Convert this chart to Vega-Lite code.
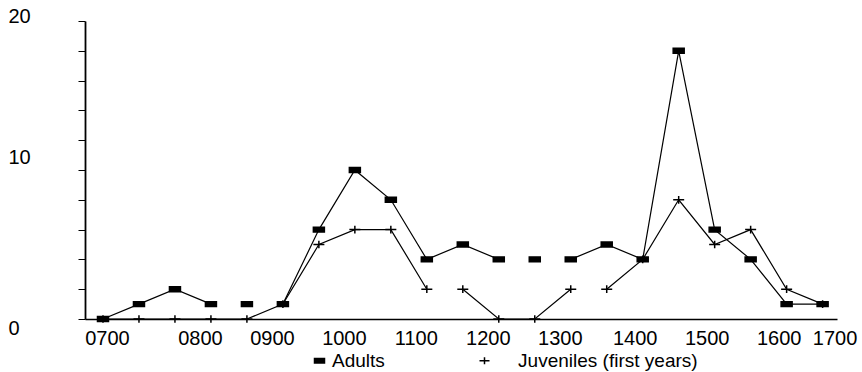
{
  "$schema": "https://vega.github.io/schema/vega-lite/v6.json",
  "autosize": {"type": "none"},
  "padding": {"left": 85, "top": 21, "right": 25, "bottom": 53},
  "width": 752,
  "height": 298,
  "background": "white",
  "config": {
    "view": {"stroke": null},
    "font": "Liberation Sans"
  },
  "data": {
    "values": [
      {"hour": 7.0, "series": "Adults", "count": 0, "run": "A1"},
      {"hour": 7.5, "series": "Adults", "count": 1, "run": "A1"},
      {"hour": 8.0, "series": "Adults", "count": 2, "run": "A1"},
      {"hour": 8.5, "series": "Adults", "count": 1, "run": "A1"},
      {"hour": 9.0, "series": "Adults", "count": 1, "run": "A2"},
      {"hour": 9.5, "series": "Adults", "count": 1, "run": "A3"},
      {"hour": 10.0, "series": "Adults", "count": 6, "run": "A3"},
      {"hour": 10.5, "series": "Adults", "count": 10, "run": "A3"},
      {"hour": 11.0, "series": "Adults", "count": 8, "run": "A3"},
      {"hour": 11.5, "series": "Adults", "count": 4, "run": "A3"},
      {"hour": 12.0, "series": "Adults", "count": 5, "run": "A3"},
      {"hour": 12.5, "series": "Adults", "count": 4, "run": "A3"},
      {"hour": 13.0, "series": "Adults", "count": 4, "run": "A4"},
      {"hour": 13.5, "series": "Adults", "count": 4, "run": "A5"},
      {"hour": 14.0, "series": "Adults", "count": 5, "run": "A5"},
      {"hour": 14.5, "series": "Adults", "count": 4, "run": "A5"},
      {"hour": 15.0, "series": "Adults", "count": 18, "run": "A5"},
      {"hour": 15.5, "series": "Adults", "count": 6, "run": "A5"},
      {"hour": 16.0, "series": "Adults", "count": 4, "run": "A5"},
      {"hour": 16.5, "series": "Adults", "count": 1, "run": "A5"},
      {"hour": 17.0, "series": "Adults", "count": 1, "run": "A5"},
      {"hour": 7.0, "series": "Juveniles (first years)", "count": 0, "run": "J1"},
      {"hour": 7.5, "series": "Juveniles (first years)", "count": 0, "run": "J1"},
      {"hour": 8.0, "series": "Juveniles (first years)", "count": 0, "run": "J1"},
      {"hour": 8.5, "series": "Juveniles (first years)", "count": 0, "run": "J1"},
      {"hour": 9.0, "series": "Juveniles (first years)", "count": 0, "run": "J1"},
      {"hour": 9.5, "series": "Juveniles (first years)", "count": 1, "run": "J1"},
      {"hour": 10.0, "series": "Juveniles (first years)", "count": 5, "run": "J1"},
      {"hour": 10.5, "series": "Juveniles (first years)", "count": 6, "run": "J1"},
      {"hour": 11.0, "series": "Juveniles (first years)", "count": 6, "run": "J1"},
      {"hour": 11.5, "series": "Juveniles (first years)", "count": 2, "run": "J1"},
      {"hour": 12.0, "series": "Juveniles (first years)", "count": 2, "run": "J2"},
      {"hour": 12.5, "series": "Juveniles (first years)", "count": 0, "run": "J2"},
      {"hour": 13.0, "series": "Juveniles (first years)", "count": 0, "run": "J2"},
      {"hour": 13.5, "series": "Juveniles (first years)", "count": 2, "run": "J2"},
      {"hour": 14.0, "series": "Juveniles (first years)", "count": 2, "run": "J3"},
      {"hour": 14.5, "series": "Juveniles (first years)", "count": 4, "run": "J3"},
      {"hour": 15.0, "series": "Juveniles (first years)", "count": 8, "run": "J3"},
      {"hour": 15.5, "series": "Juveniles (first years)", "count": 5, "run": "J3"},
      {"hour": 16.0, "series": "Juveniles (first years)", "count": 6, "run": "J3"},
      {"hour": 16.5, "series": "Juveniles (first years)", "count": 2, "run": "J3"},
      {"hour": 17.0, "series": "Juveniles (first years)", "count": 1, "run": "J3"}
    ]
  },
  "encoding": {
    "x": {
      "field": "hour",
      "type": "quantitative",
      "scale": {"domain": [6.75, 17.2], "nice": false, "zero": false},
      "axis": {
        "title": null,
        "values": [7, 8, 9, 10, 11, 12, 13, 14, 15, 16, 17],
        "labelExpr": "(datum.value < 10 ? '0' : '') + datum.value + '00'",
        "labelOffset": {"expr": "datum.value == 7 ? 4 : datum.value == 17 ? 12 : datum.value >= 14 ? 28 : 25"},
        "ticks": false,
        "tickSize": 0,
        "labelPadding": 9,
        "labelFontSize": 20,
        "labelColor": "black",
        "labelFont": "Liberation Sans",
        "labelOverlap": false,
        "labelFlush": false,
        "grid": false,
        "domainColor": "black",
        "domainWidth": 1.5
      }
    },
    "y": {
      "field": "count",
      "type": "quantitative",
      "scale": {"domain": [0, 20], "nice": false},
      "axis": {
        "title": null,
        "values": [0, 2, 4, 6, 8, 10, 12, 14, 16, 18, 20],
        "labelExpr": "datum.value % 10 == 0 ? datum.label : ''",
        "labelAlign": "left",
        "labelBaseline": "middle",
        "labelPadding": 70,
        "labelOffset": {"expr": "datum.value == 0 ? 9 : datum.value == 10 ? -13 : -5"},
        "tickSize": 7,
        "tickColor": "black",
        "tickWidth": 1,
        "labelFontSize": 20,
        "labelColor": "black",
        "labelFont": "Liberation Sans",
        "grid": false,
        "domainColor": "black",
        "domainWidth": 1.8
      }
    }
  },
  "layer": [
    {
      "mark": {"type": "line", "color": "black", "strokeWidth": 1.2},
      "encoding": {
        "detail": {"field": "run", "type": "nominal"}
      }
    },
    {
      "mark": {"type": "point", "filled": true, "color": "black", "stroke": "black", "strokeWidth": 1.5, "size": 121, "opacity": 1},
      "encoding": {
        "shape": {
          "field": "series",
          "type": "nominal",
          "scale": {
            "domain": ["Adults", "Juveniles (first years)"],
            "range": ["M-1,-0.45H1V0.45H-1Z", "M-1,0H1M0,-0.7V0.7"]
          },
          "legend": {
            "title": null,
            "orient": "none",
            "legendX": 225,
            "legendY": 330,
            "direction": "horizontal",
            "columnPadding": 90,
            "symbolSize": 100,
            "labelFontSize": 19,
            "labelFont": "Liberation Sans",
            "labelColor": "black",
            "labelOffset": 3,
            "labelLimit": 0,
            "padding": 0,
            "labelExpr": "datum.label == 'Adults' ? datum.label : '\u200b\u00a0\u00a0\u00a0\u00a0' + datum.label",
            "encode": {
              "symbols": {
                "update": {
                  "fill": {"value": "black"},
                  "stroke": {"value": "black"},
                  "strokeWidth": {"value": 1.5},
                  "opacity": {"value": 1}
                }
              }
            }
          }
        }
      }
    }
  ]
}
